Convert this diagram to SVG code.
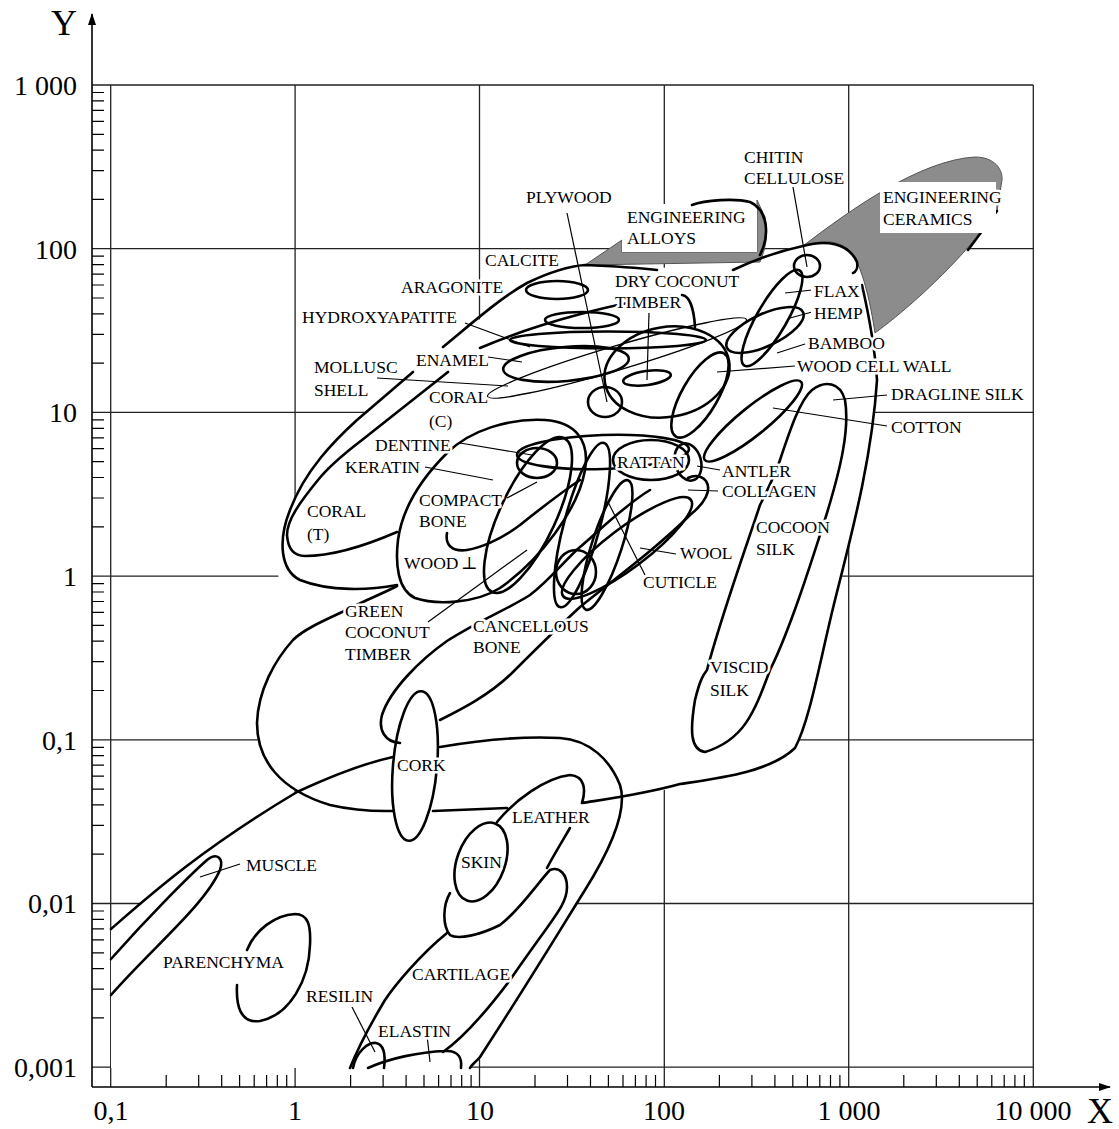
<svg xmlns="http://www.w3.org/2000/svg" width="1119" height="1129" viewBox="0 0 1119 1129">
<style>
.grid{stroke:#222;stroke-width:1.3;fill:none}
.ax{stroke:#000;stroke-width:1.6;fill:none}
.tk{stroke:#000;stroke-width:1.2}
.s{stroke:#000;stroke-width:2.6;fill:none;stroke-linecap:round;stroke-linejoin:round}
.sw{stroke:#000;stroke-width:2.6;fill:#fff;stroke-linecap:round}
.th{stroke:#000;stroke-width:1.3;fill:none}
.ld{stroke:#000;stroke-width:1.2;fill:none}
.num{font-family:"Liberation Serif",serif;font-size:28px;fill:#000}
.lab{font-family:"Liberation Serif",serif;font-size:17.5px;fill:#000;stroke:#fff;stroke-width:5;paint-order:stroke;stroke-linejoin:round}
.axl{font-family:"Liberation Serif",serif;font-size:36px;fill:#000}
.gray{fill:#8c8c8c;stroke:#555;stroke-width:1}
</style>
<defs>
<marker id="arr" markerWidth="12" markerHeight="10" refX="11" refY="5" orient="auto" markerUnits="userSpaceOnUse"><path d="M0,1 L12,5 L0,9 Z" fill="#000"/></marker>
</defs>
<rect width="1119" height="1129" fill="#fff"/>
<g id="grid">
<path class="grid" d="M110.7,85V1087M295.1,85V1087M479.5,85V1087M664.3,85V1087M848.7,85V1087M1033.3,85V1087"/>
<path class="grid" d="M92,85H1033.3M92,248.7H1033.3M92,412.4H1033.3M92,576.1H1033.3M92,739.8H1033.3M92,903.5H1033.3M92,1067.2H1033.3"/>
</g>
<g id="axes">
<path class="ax" d="M92,1087V14" marker-end="url(#arr)"/>
<path class="ax" d="M92,1087H1110" marker-end="url(#arr)"/>
<path class="tk" d="M92,199.4H104M92,170.6H104M92,150.1H104M92,134.3H104M92,121.3H104M92,110.4H104M92,100.9H104M92,92.5H104
M92,363.1H104M92,334.3H104M92,313.8H104M92,298H104M92,285H104M92,274.1H104M92,264.6H104M92,256.2H104
M92,526.8H104M92,498H104M92,477.5H104M92,461.7H104M92,448.7H104M92,437.8H104M92,428.3H104M92,419.9H104
M92,690.5H104M92,661.7H104M92,641.2H104M92,625.4H104M92,612.4H104M92,601.5H104M92,592H104M92,583.6H104
M92,854.2H104M92,825.4H104M92,804.9H104M92,789.1H104M92,776.1H104M92,765.2H104M92,755.7H104M92,747.3H104
M92,1017.9H104M92,989.1H104M92,968.6H104M92,952.8H104M92,939.8H104M92,928.9H104M92,919.4H104M92,911H104"/>
<path class="tk" d="M166.2,1075V1087M198.7,1075V1087M221.7,1075V1087M239.6,1075V1087M254.2,1075V1087M266.6,1075V1087M277.3,1075V1087M286.7,1075V1087
M350.6,1075V1087M383.1,1075V1087M406.1,1075V1087M424,1075V1087M438.6,1075V1087M451,1075V1087M461.7,1075V1087M471.1,1075V1087
M535,1075V1087M567.5,1075V1087M590.5,1075V1087M608.4,1075V1087M623,1075V1087M635.4,1075V1087M646.1,1075V1087M655.5,1075V1087
M719.4,1075V1087M751.9,1075V1087M774.9,1075V1087M792.8,1075V1087M807.4,1075V1087M819.8,1075V1087M830.5,1075V1087M839.9,1075V1087
M903.8,1075V1087M936.3,1075V1087M959.3,1075V1087M977.2,1075V1087M991.8,1075V1087M1004.2,1075V1087M1014.9,1075V1087M1024.3,1075V1087"/>
<text class="axl" x="51" y="35">Y</text>
<text class="axl" x="1087" y="1123">X</text>
<g class="num" text-anchor="end">
<text x="77" y="95">1 000</text><text x="77" y="259">100</text><text x="77" y="422">10</text><text x="77" y="586">1</text><text x="77" y="750">0,1</text><text x="77" y="913">0,01</text><text x="77" y="1077">0,001</text>
</g>
<g class="num" text-anchor="middle">
<text x="111" y="1120">0,1</text><text x="295" y="1120">1</text><text x="480" y="1120">10</text><text x="664" y="1120">100</text><text x="849" y="1120">1 000</text><text x="1033" y="1120">10 000</text>
</g>
</g>
<g id="envelope-fill">
<path fill="#fff" d="M111,929 C170,880 240,815 297,792 C265,770 255,745 257,723 C258,690 270,660 280,640 L278,560 C280,500 320,450 357,420 L413,372 C440,350 480,318 527,284 C545,272 570,266 585,265 L733,270 C760,258 790,246 803,246 C830,238 850,242 857,262 C865,285 872,310 877,380 C875,440 860,500 845,560 C830,620 815,690 800,740 C785,765 760,775 720,780 L625,797 C620,830 600,870 573,907 C550,945 520,990 480,1057 L470,1068 L111,1068 Z"/>
</g>
<g id="engineering-ceramics">
<path class="gray" d="M803,246 C850,210 920,160 975,157 C995,157 1003,170 1002,180 L997,211 C970,250 920,300 875,333 C870,300 864,278 857,262 C848,240 825,238 803,246 Z"/>
<path class="s" d="M997,211 L968,250"/>
<rect x="880" y="182" width="116" height="51" fill="#fff"/>
</g>
<g id="engineering-alloys">
<path class="gray" d="M585,265 L622,240 L622,252 L757,252 L757,200 L765,217 C769,235 765,250 760,262 Z"/>
<rect x="622" y="204" width="135" height="48" fill="#fff"/>
<path class="s" d="M692,205 C705,200 735,198 750,202 C768,210 770,235 760,255"/>
</g>
<g id="connectors">
<path class="s" d="M111,929 C150,895 200,850 297,792 C340,772 370,762 393,757"/>
<path class="s" d="M440,747 C480,740 520,736 560,738 C590,740 610,760 620,785 C628,810 610,850 585,890 C560,930 535,972 480,1057 C476,1062 472,1064 470,1068"/>
<path class="s" d="M111,959 C150,915 190,875 207,860 C217,852 224,858 220,870 C205,905 150,950 111,995"/>
<path class="s" d="M397,586 C380,595 365,600 353,607 C330,618 305,628 293,640 C275,660 258,690 257,723 C257,760 280,790 330,805 C360,812 380,811 393,811 M433,811 L507,808"/>
<path class="s" d="M497,822 C515,800 545,778 570,775 C585,776 586,790 582,803 C600,800 640,795 680,784 C720,778 770,772 795,748 C810,720 820,660 835,600 C850,540 872,460 877,380 C875,350 870,320 862,285"/>
<path class="s" d="M570,828 C560,845 552,858 547,868"/>
<path class="s" d="M450,893 C443,905 442,925 450,935 C458,940 480,935 500,925 C520,910 540,880 550,870 C560,866 567,875 567,887 C567,905 555,915 510,980 C480,1020 460,1040 443,1052"/>
<path class="s" d="M447,933 C420,955 395,985 385,1000 C370,1025 358,1048 350,1068"/>
<path class="s" d="M353,1068 C356,1052 368,1042 376,1043 C386,1045 385,1060 384,1068"/>
<path class="s" d="M368,1068 C390,1058 420,1052 445,1051 C460,1050 462,1060 461,1068"/>
<path class="s" d="M247,950 C255,930 275,915 295,914 C308,914 311,925 310,945 C309,980 290,1015 260,1021 C240,1024 236,1005 237,985"/>
<ellipse class="sw" cx="415" cy="766" rx="22" ry="75" transform="rotate(5 415 766)"/>
<ellipse class="sw" cx="481" cy="862" rx="24" ry="41" transform="rotate(20 481 862)"/>
<path class="s" d="M400,743 C385,742 378,730 382,715 C390,690 420,660 447,641 C480,620 510,608 530,595 C550,580 565,560 580,547 C600,530 625,505 650,490"/>
<path class="s" d="M440,720 C460,710 490,695 513,672 C530,655 555,630 580,607 C620,575 660,545 690,515 C705,503 712,490 706,481 C700,474 692,476 688,478"/>
<path class="s" d="M397,585 C370,590 330,592 300,580 C280,570 278,540 290,510 C305,470 335,440 357,420 L413,372 M443,347 C470,325 500,298 527,283 C550,272 570,266 585,265 C610,266 640,268 657,270 M733,270 C750,262 775,252 803,246 C825,240 848,242 857,262 C858,268 856,272 853,273"/>
<path class="s" d="M448,372 L362,440 C345,453 330,465 318,480 C300,502 287,520 287,535 C288,550 295,556 305,556 C330,556 360,548 397,532"/>
<path class="s" d="M480,348 C540,322 620,302 670,296 M682,295 C690,296 694,310 695,327"/>
<path class="s" d="M447,453 C470,430 510,418 545,420 C575,422 590,440 585,470 C578,510 540,560 500,588 C475,604 435,605 415,598 C398,590 395,565 398,540 C402,510 420,480 447,453 Z"/>
<path class="s" d="M447,533 C445,545 452,552 467,550 C480,548 500,540 520,525 C545,505 565,490 580,480"/>
<ellipse class="s" cx="528" cy="515" rx="28" ry="85" transform="rotate(25 528 515)"/>
<ellipse class="s" cx="582" cy="525" rx="18" ry="85" transform="rotate(15 582 525)"/>
<ellipse class="s" cx="607" cy="545" rx="15" ry="68" transform="rotate(18 607 545)"/>
<ellipse class="s" cx="557" cy="290" rx="31" ry="9"/>
<ellipse class="s" cx="582" cy="320" rx="37" ry="8"/>
<ellipse class="s" cx="608" cy="340" rx="98" ry="8.5"/>
<ellipse class="s" cx="566" cy="364" rx="63" ry="17" transform="rotate(-5 566 364)"/>
<ellipse class="th" cx="617" cy="358" rx="135" ry="12" transform="rotate(-16.5 617 358)"/>
<ellipse class="s" cx="605" cy="402" rx="17" ry="15"/>
<ellipse class="s" cx="647" cy="378" rx="24" ry="7" transform="rotate(-8 647 378)"/>
<ellipse class="s" cx="667" cy="372" rx="63" ry="45" transform="rotate(-10 667 372)"/>
<ellipse class="s" cx="807" cy="266" rx="13" ry="11"/>
<ellipse class="s" cx="772" cy="318" rx="55" ry="15" transform="rotate(-60 772 318)"/>
<ellipse class="s" cx="765" cy="330" rx="42" ry="16" transform="rotate(-25 765 330)"/>
<ellipse class="s" cx="700" cy="395" rx="48" ry="18" transform="rotate(-60 700 395)"/>
<ellipse class="s" cx="753" cy="421" rx="62" ry="14" transform="rotate(-39 753 421)"/>
<path class="s" d="M760,505 C770,485 775,475 780,460 C790,430 800,400 812,390 C825,380 840,382 845,400 C850,430 840,470 827,513 C812,560 790,630 770,670 C755,710 745,740 705,752 C690,750 690,730 695,700 C700,680 703,675 707,670 C720,620 745,550 760,505"/>
<ellipse class="s" cx="651" cy="460" rx="38" ry="20"/>
<ellipse class="s" cx="688" cy="462" rx="13" ry="19" transform="rotate(-15 688 462)"/>
<ellipse class="s" cx="537" cy="463" rx="20" ry="15"/>
<ellipse class="s" cx="603" cy="452" rx="86" ry="17" transform="rotate(-2 603 452)"/>
<ellipse class="s" cx="627" cy="548" rx="80" ry="20" transform="rotate(-37 627 548)"/>
<ellipse class="s" cx="576" cy="572" rx="20" ry="22"/>
</g>
<g id="leaders">
<path class="ld" d="M793,187 L807,267"/>
<path class="ld" d="M567,213 L607,402"/>
<path class="ld" d="M649,313 L647,380"/>
<path class="ld" d="M465,323 L530,347"/>
<path class="ld" d="M488,357 L522,362"/>
<path class="ld" d="M377,378 L508,386"/>
<path class="ld" d="M460,443 L532,455"/>
<path class="ld" d="M425,467 L493,480"/>
<path class="ld" d="M507,498 L537,482"/>
<path class="ld" d="M428,622 L527,550"/>
<path class="ld" d="M200,877 L240,864"/>
<path class="ld" d="M352,1007 L375,1052"/>
<path class="ld" d="M427,1035 L430,1062"/>
<path class="ld" d="M717,372 L795,366"/>
<path class="ld" d="M777,353 L805,344"/>
<path class="ld" d="M785,293 L812,290"/>
<path class="ld" d="M790,318 L812,312"/>
<path class="ld" d="M833,400 L887,395"/>
<path class="ld" d="M773,408 L887,426"/>
<path class="ld" d="M697,466 L720,470"/>
<path class="ld" d="M688,490 L718,491"/>
<path class="ld" d="M640,548 L676,554"/>
<path class="ld" d="M608,502 L645,575"/>
</g>
<g id="labels">
<rect x="811" y="278" width="50" height="46" fill="#fff"/>
<text class="lab" x="744" y="163">CHITIN</text>
<text class="lab" x="744" y="184">CELLULOSE</text>
<text class="lab" x="526" y="203">PLYWOOD</text>
<text class="lab" x="627" y="223">ENGINEERING</text>
<text class="lab" x="627" y="244">ALLOYS</text>
<text class="lab" x="883" y="203">ENGINEERING</text>
<text class="lab" x="883" y="225">CERAMICS</text>
<text class="lab" x="485" y="266">CALCITE</text>
<text class="lab" x="401" y="293">ARAGONITE</text>
<text class="lab" x="302" y="323">HYDROXYAPATITE</text>
<text class="lab" x="416" y="366">ENAMEL</text>
<text class="lab" x="314" y="373">MOLLUSC</text>
<text class="lab" x="314" y="396">SHELL</text>
<text class="lab" x="429" y="403">CORAL</text>
<text class="lab" x="429" y="427">(C)</text>
<text class="lab" x="615" y="287">DRY COCONUT</text>
<text class="lab" x="615" y="308">TIMBER</text>
<text class="lab" x="814" y="297">FLAX</text>
<text class="lab" x="814" y="319">HEMP</text>
<text class="lab" x="808" y="349">BAMBOO</text>
<text class="lab" x="797" y="372">WOOD CELL WALL</text>
<text class="lab" x="891" y="400">DRAGLINE SILK</text>
<text class="lab" x="891" y="433">COTTON</text>
<text class="lab" x="375" y="451">DENTINE</text>
<text class="lab" x="345" y="473">KERATIN</text>
<text class="lab" x="307" y="517">CORAL</text>
<text class="lab" x="307" y="540">(T)</text>
<text class="lab" x="419" y="506">COMPACT</text>
<text class="lab" x="419" y="527">BONE</text>
<text class="lab" x="404" y="569">WOOD</text>
<text class="lab" x="461" y="569" style="font-family:'DejaVu Serif',serif">⊥</text>
<text class="lab" x="345" y="617">GREEN</text>
<text class="lab" x="345" y="638">COCONUT</text>
<text class="lab" x="345" y="660">TIMBER</text>
<text class="lab" x="473" y="632">CANCELLOUS</text>
<text class="lab" x="473" y="653">BONE</text>
<text class="lab" x="617" y="468">RATTAN</text>
<text class="lab" x="722" y="477">ANTLER</text>
<text class="lab" x="722" y="497">COLLAGEN</text>
<text class="lab" x="680" y="559">WOOL</text>
<text class="lab" x="643" y="588">CUTICLE</text>
<text class="lab" x="756" y="533">COCOON</text>
<text class="lab" x="756" y="555">SILK</text>
<text class="lab" x="710" y="673">VISCID</text>
<text class="lab" x="710" y="696">SILK</text>
<text class="lab" x="397" y="771">CORK</text>
<text class="lab" x="512" y="823">LEATHER</text>
<text class="lab" x="461" y="868">SKIN</text>
<text class="lab" x="246" y="871">MUSCLE</text>
<text class="lab" x="163" y="968">PARENCHYMA</text>
<text class="lab" x="412" y="980">CARTILAGE</text>
<text class="lab" x="306" y="1002">RESILIN</text>
<text class="lab" x="378" y="1037">ELASTIN</text>
</g>
</svg>
